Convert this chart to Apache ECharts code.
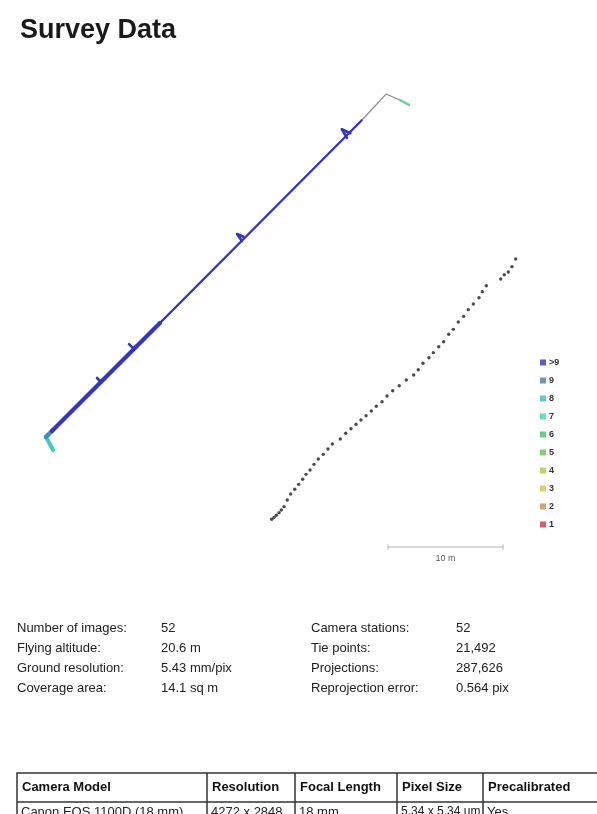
<!DOCTYPE html>
<html>
<head>
<meta charset="utf-8">
<script src="https://cdn.jsdelivr.net/npm/echarts@6/dist/echarts.min.js"></script>
<style>
html,body{margin:0;padding:0;background:#fff;}
#chart{width:597px;height:814px;}
</style>
</head>
<body>
<div id="chart"></div>
<script>
// ---- data (metres) ----
const cameraPositions = [
  [22.76,4.93],[22.96,5.10],[23.16,5.28],[23.39,5.50],[23.59,5.74],[23.83,6.03],
  [24.11,6.61],[24.41,7.13],[24.76,7.54],[25.10,7.97],[25.45,8.41],[25.74,8.84],
  [26.09,9.22],[26.43,9.71],[26.81,10.17],[27.24,10.58],[27.65,11.04],[28.03,11.48],
  [28.72,11.91],[29.19,12.41],[29.65,12.81],[30.09,13.19],[30.52,13.57],[30.96,13.94],
  [31.42,14.35],[31.85,14.76],[32.35,15.16],[32.78,15.65],[33.28,16.11],[33.85,16.55],
  [34.46,17.04],[35.10,17.48],[35.50,17.94],[35.91,18.50],[36.43,18.98],[36.81,19.42],
  [37.28,19.94],[37.71,20.37],[38.15,21.02],[38.55,21.45],[38.98,22.09],[39.45,22.58],
  [39.85,23.16],[40.29,23.65],[40.78,24.20],[41.07,24.72],[41.42,25.24],[42.67,25.83],
  [42.98,26.20],[43.33,26.43],[43.65,26.90],[43.97,27.57]
];
const trackHook   = [[3.74,10.96],[3.13,12.09]];
const trackJoin   = [[3.13,12.09],[3.65,12.61]];
const trackLower  = [[3.65,12.61],[13.04,22.0]];
const trackUpper  = [[13.04,22.0],[30.61,39.65]];
const trackThin   = [[30.61,39.65],[32.70,41.91],[33.91,41.39]];
const trackEnd    = [[33.91,41.39],[34.70,40.96]];
const trackBlips  = [
  [[29.30,38.10],[28.85,38.85],[29.60,38.50]],
  [[20.17,29.13],[19.74,29.74],[20.30,29.50]],
  [[10.78,19.74],[10.35,20.17]],
  [[7.91,16.87],[7.57,17.22]]
];
const scaleBar = [[32.87,2.52],[42.87,2.52]];
const scaleLabel = '10 m';
const overlapLabels = ['>9','9','8','7','6','5','4','3','2','1'];
const overlapColors = ['#3535b0','#4a80a2','#40b4c4','#44d0b4','#40c070','#68c25c','#b2c842','#d8c04c','#c0904a','#d0324a'];

const statLabelsLeft  = ['Number of images:','Flying altitude:','Ground resolution:','Coverage area:'];
const statValuesLeft  = ['52','20.6 m','5.43 mm/pix','14.1 sq m'];
const statLabelsRight = ['Camera stations:','Tie points:','Projections:','Reprojection error:'];
const statValuesRight = ['52','21,492','287,626','0.564 pix'];

const tableHeader = ['Camera Model','Resolution','Focal Length','Pixel Size','Precalibrated'];
const tableRow    = ['Canon EOS 1100D (18 mm)','4272 x 2848','18 mm','5.34 x 5.34 um','Yes'];

// ---- chart ----
const FONT = "'Liberation Sans', Arial, sans-serif";
const chart = echarts.init(document.getElementById('chart'), null, {renderer:'canvas'});

function seg(data, color, width, z){
  return {type:'line', data:data, showSymbol:false, symbol:'none', silent:true, z:z||2,
    lineStyle:{color:color, width:width, cap:'round', join:'round'}, animation:false};
}

const series = [
  seg(trackHook, '#48c8b8', 4),
  seg(trackJoin, '#3f8cc4', 4.5),
  seg(trackLower, '#3636b6', 4.2),
  seg(trackUpper, '#3636b6', 2.4),
  seg(trackThin, '#8a8a8a', 1.2),
  seg(trackEnd, '#70cca0', 2.5)
];
trackBlips.forEach(b => series.push(seg(b, '#3636b6', 2.6)));
series.push({type:'scatter', data:cameraPositions, symbolSize:3.4, silent:true, z:5,
  itemStyle:{color:'#1e1e1e'}, animation:false});
series.push(seg(scaleBar, '#b4b4b4', 1));
series.push(seg([[scaleBar[0][0],2.32],[scaleBar[0][0],2.72]], '#b4b4b4', 1));
series.push(seg([[scaleBar[1][0],2.32],[scaleBar[1][0],2.72]], '#b4b4b4', 1));
series.push({type:'scatter', data:[[(scaleBar[0][0]+scaleBar[1][0])/2, 1.5]], symbolSize:0, silent:true,
  label:{show:true, position:'inside', formatter:scaleLabel, fontSize:9, color:'#333', fontFamily:FONT},
  animation:false});
overlapLabels.forEach((n,i)=>{
  series.push({type:'scatter', name:n, data:[], itemStyle:{color:overlapColors[i]}});
});

// graphics: stats and table
const graphics = [];
const rowY = [630, 650, 670, 690];
const colX = [17, 161, 311, 456];
for (let i=0;i<4;i++){
  [[statLabelsLeft,0],[statValuesLeft,1],[statLabelsRight,2],[statValuesRight,3]].forEach(([arr,c])=>{
    graphics.push({type:'text', left:colX[c], top:rowY[i]-8,
      style:{text:arr[i], fill:'#222', font:'13px '+FONT}});
  });
}
const tTop=773, tMid=802, tBot=840, tLeft=17, tRight=610;
const tCols=[17,207,295,397,483];
graphics.push({type:'rect', shape:{x:tLeft,y:tTop,width:tRight-tLeft,height:tBot-tTop},
  style:{fill:'none', stroke:'#333', lineWidth:1.5}});
graphics.push({type:'line', shape:{x1:tLeft,y1:tMid,x2:tRight,y2:tMid}, style:{stroke:'#333', lineWidth:1.5}});
tCols.slice(1).forEach(x=>graphics.push({type:'line', shape:{x1:x,y1:tTop,x2:x,y2:tBot}, style:{stroke:'#333', lineWidth:1.5}}));
tableHeader.forEach((t,i)=>graphics.push({type:'text', left:tCols[i]+5, top:tTop+8,
  style:{text:t, fill:'#111', font:'bold 13px '+FONT}}));
tableRow.forEach((t,i)=>graphics.push({type:'text', left:tCols[i]+4, top:tMid+4,
  style:{text:t, fill:'#222', font:(i===3?'12px ':'13px ')+FONT}}));

chart.setOption({
  animation:false,
  backgroundColor:'#ffffff',
  title:{text:'Survey Data', left:15, top:12,
    textStyle:{fontSize:27, fontWeight:'bold', color:'#1a1a1a', fontFamily:FONT}},
  grid:{left:10, top:70, width:575, height:506},
  xAxis:{type:'value', min:0, max:50, show:false},
  yAxis:{type:'value', min:0, max:44, show:false},
  legend:{orient:'vertical', left:535, top:353, itemWidth:6, itemHeight:6, itemGap:9,
    icon:'rect', selectedMode:false, data:overlapLabels,
    textStyle:{fontSize:9, fontWeight:'bold', color:'#333', fontFamily:FONT, padding:[0,0,0,-2]}},
  series:series,
  graphic:graphics
});
</script>
</body>
</html>
